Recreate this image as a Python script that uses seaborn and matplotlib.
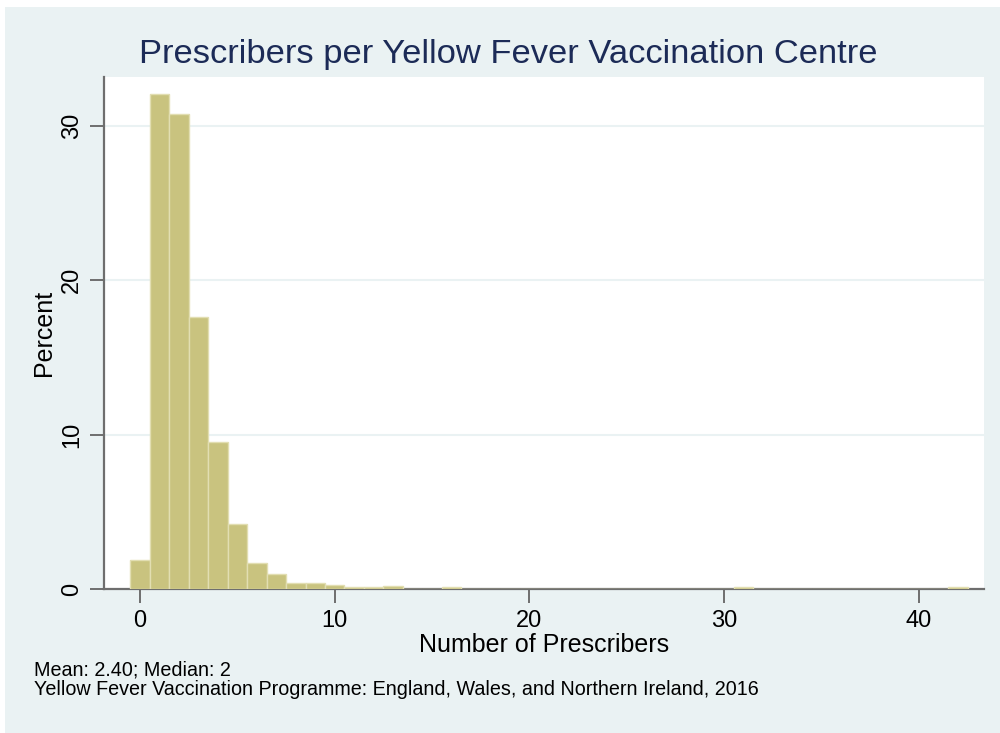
import matplotlib
matplotlib.use("Agg")
import matplotlib.pyplot as plt
from matplotlib.patches import Rectangle
import seaborn as sns
import pandas as pd

# Number of prescribers per centre and the share of centres (%) for each value
prescribers = [0, 1, 2, 3, 4, 5, 6, 7, 8, 9, 10, 11, 12, 13, 16, 31, 42]
percent = [1.85, 32.1, 30.8, 17.6, 9.5, 4.2, 1.67, 0.95, 0.41, 0.41,
           0.26, 0.11, 0.11, 0.2, 0.11, 0.11, 0.11]

x_ticks = [0, 10, 20, 30, 40]
y_ticks = [0, 10, 20, 30]

title = "Prescribers per Yellow Fever Vaccination Centre"
x_label = "Number of Prescribers"
y_label = "Percent"
note_lines = ["Mean: 2.40; Median: 2",
              "Yellow Fever Vaccination Programme: England, Wales, and Northern Ireland, 2016"]

df = pd.DataFrame({"prescribers": prescribers, "percent": percent})

sns.set_theme(style="white")
plt.rcParams["font.family"] = ["Liberation Sans", "DejaVu Sans"]

bg = "#EAF2F3"
axis_grey = "#6E6E6E"

fig = plt.figure(figsize=(10, 7.33), dpi=100, facecolor="white")
fig.patches.append(Rectangle((0.005, 0.0), 0.995, 1 - 7 / 733,
                             transform=fig.transFigure, facecolor=bg,
                             edgecolor="none", zorder=-10))

ax = fig.add_axes([0.104, 1 - 589 / 733, 0.880, 512 / 733])
ax.set_facecolor("white")

sns.histplot(data=df, x="prescribers", weights="percent", discrete=True,
             stat="count", color="#C9C37F", alpha=1.0,
             edgecolor="#E2DEB2", linewidth=1.0, ax=ax, zorder=3)

ax.set_xlim(-1.85, 43.34)
ax.set_ylim(0, 33.17)
ax.set_xticks(x_ticks)
ax.set_yticks(y_ticks)
ax.yaxis.grid(True, color="#EAF2F3", linewidth=1.5, zorder=0)
ax.set_axisbelow(True)

for side in ["top", "right"]:
    ax.spines[side].set_visible(False)
for side in ["left", "bottom"]:
    ax.spines[side].set_color(axis_grey)
    ax.spines[side].set_linewidth(1.6)

ax.tick_params(axis="both", direction="out", length=10, width=1.4,
               color=axis_grey, labelsize=17, labelcolor="black", pad=5,
               left=True, bottom=True)
for lbl in ax.get_yticklabels():
    lbl.set_rotation(90)
    lbl.set_va("center")

ax.set_xlabel(x_label, fontsize=18, color="black", labelpad=1)
ax.set_ylabel(y_label, fontsize=18, color="black", labelpad=4)

fig.text(0.508, 1 - 63 / 733, title, ha="center", va="baseline",
         fontsize=24.8, color="#1C2B57")

fig.text(0.034, 1 - 675 / 733, note_lines[0], ha="left", va="baseline",
         fontsize=14.2, color="black")
fig.text(0.034, 1 - 695 / 733, note_lines[1], ha="left", va="baseline",
         fontsize=14.2, color="black")

fig.savefig("out.png", dpi=100, facecolor=fig.get_facecolor())
